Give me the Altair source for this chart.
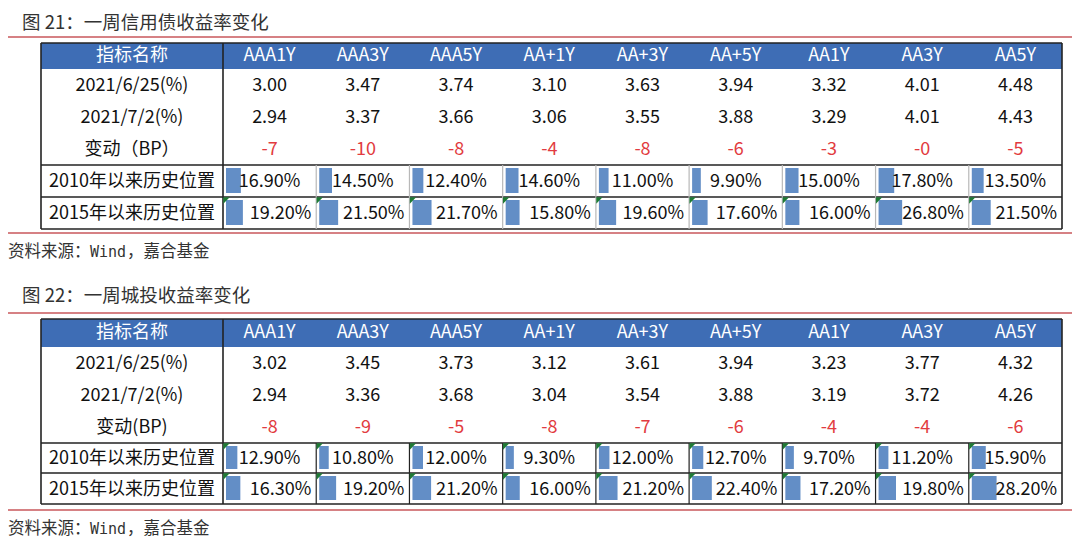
import altair as alt
import pandas as pd

# ---------------- data ----------------
columns = ["AAA1Y", "AAA3Y", "AAA5Y", "AA+1Y", "AA+3Y", "AA+5Y", "AA1Y", "AA3Y", "AA5Y"]
header_first = "指标名称"
row_labels_1 = ["2021/6/25(%)", "2021/7/2(%)", "变动（BP）", "2010年以来历史位置", "2015年以来历史位置"]
row_labels_2 = ["2021/6/25(%)", "2021/7/2(%)", "变动(BP)", "2010年以来历史位置", "2015年以来历史位置"]

# 图21 一周信用债收益率变化
t1_yield_0625 = [3.00, 3.47, 3.74, 3.10, 3.63, 3.94, 3.32, 4.01, 4.48]
t1_yield_0702 = [2.94, 3.37, 3.66, 3.06, 3.55, 3.88, 3.29, 4.01, 4.43]
t1_change_bp = [-7, -10, -8, -4, -8, -6, -3, -0.0, -5]
t1_pos_2010 = [16.90, 14.50, 12.40, 14.60, 11.00, 9.90, 15.00, 17.80, 13.50]
t1_pos_2015 = [19.20, 21.50, 21.70, 15.80, 19.60, 17.60, 16.00, 26.80, 21.50]

# 图22 一周城投收益率变化
t2_yield_0625 = [3.02, 3.45, 3.73, 3.12, 3.61, 3.94, 3.23, 3.77, 4.32]
t2_yield_0702 = [2.94, 3.36, 3.68, 3.04, 3.54, 3.88, 3.19, 3.72, 4.26]
t2_change_bp = [-8, -9, -5, -8, -7, -6, -4, -4, -6]
t2_pos_2010 = [12.90, 10.80, 12.00, 9.30, 12.00, 12.70, 9.70, 11.20, 15.90]
t2_pos_2015 = [16.30, 19.20, 21.20, 16.00, 21.20, 22.40, 17.20, 19.80, 28.20]

titles = ["图 21：一周信用债收益率变化", "图 22：一周城投收益率变化"]
source_parts = ["资料来源：", "Wind", "，嘉合基金"]

# ---------------- layout (pixel grid of the picture) ----------------
FONT = "Noto Sans CJK SC"
MONO = "DejaVu Sans Mono"
BLUE = "#3E6DB5"
RED_LINE = "#C9575B"
RED_TXT = "#E23B40"
DARK = "#222222"
BAR = "#638EC6"
TRI = "#1F7A35"

X_LEFT, X_FIRST, X_RIGHT = 41, 223, 1062
COL_W = (X_RIGHT - X_FIRST) / len(columns)
BAR_PX_PER_PCT = 0.88
SRC_X = [8, 90, 127]

layouts = [
    dict(title_y=22.5, red_top=37, red_bot=233, source_y=252,
         rows=[43, 69, 101, 133, 165, 197, 229], inner="#B8B8B8", tri_rows=[4],
         labels=row_labels_1, y25=t1_yield_0625, y02=t1_yield_0702, chg=t1_change_bp,
         p10=t1_pos_2010, p15=t1_pos_2015),
    dict(title_y=296, red_top=313, red_bot=510, source_y=529,
         rows=[319, 347, 379, 411, 443, 473, 504], inner=DARK, tri_rows=[3, 4],
         labels=row_labels_2, y25=t2_yield_0625, y02=t2_yield_0702, chg=t2_change_bp,
         p10=t2_pos_2010, p15=t2_pos_2015),
]

header_bg, bars, lines, tris = [], [], [], []
txt_center, txt_right, txt_title, txt_source, txt_mono = [], [], [], [], []


def cl(j):
    return X_FIRST + j * COL_W


for ti, L in enumerate(layouts):
    r = L["rows"]
    txt_title.append(dict(x=22, y=L["title_y"], text=titles[ti]))
    txt_source.append(dict(x=SRC_X[0], y=L["source_y"], text=source_parts[0]))
    txt_mono.append(dict(x=SRC_X[1], y=L["source_y"], text=source_parts[1]))
    txt_source.append(dict(x=SRC_X[2], y=L["source_y"], text=source_parts[2]))
    # red separator lines
    lines.append(dict(x=8, x2=1072, y=L["red_top"], y2=L["red_top"], color=RED_LINE, w=1.6))
    lines.append(dict(x=8, x2=1072, y=L["red_bot"], y2=L["red_bot"], color=RED_LINE, w=1.6))
    # header
    header_bg.append(dict(x=X_LEFT, x2=X_RIGHT, y=r[0], y2=r[1]))
    hy = (r[0] + r[1]) / 2
    txt_center.append(dict(x=(X_LEFT + X_FIRST) / 2, y=hy, text=header_first, color="white"))
    for j, c in enumerate(columns):
        txt_center.append(dict(x=cl(j) + COL_W / 2, y=hy, text=c, color="white"))
    # first column labels
    for i, lab in enumerate(L["labels"]):
        yc = (r[i + 1] + r[i + 2]) / 2 + 1
        txt_center.append(dict(x=(X_LEFT + X_FIRST) / 2, y=yc, text=lab, color="#111111"))
    # numeric rows
    for j in range(len(columns)):
        xc = cl(j) + COL_W / 2
        txt_center.append(dict(x=xc, y=(r[1] + r[2]) / 2 + 1, text=f"{L['y25'][j]:.2f}", color="#111111"))
        txt_center.append(dict(x=xc, y=(r[2] + r[3]) / 2 + 1, text=f"{L['y02'][j]:.2f}", color="#111111"))
        txt_center.append(dict(x=xc, y=(r[3] + r[4]) / 2 + 1, text=f"{L['chg'][j]:.0f}", color=RED_TXT))
        # data bar rows
        for k, vals in ((3, L["p10"]), (4, L["p15"])):
            top, bot = r[k + 1], r[k + 2]
            v = vals[j]
            bars.append(dict(x=cl(j) + 3, x2=cl(j) + 3 + v * BAR_PX_PER_PCT, y=top + 3, y2=bot - 4))
            if k == 3:
                txt_center.append(dict(x=xc, y=(top + bot) / 2 + 1, text=f"{v:.2f}%", color="#111111"))
            else:
                txt_right.append(dict(x=cl(j) + COL_W - 5, y=(top + bot) / 2 + 1, text=f"{v:.2f}%", color="#111111"))
            if k in L["tri_rows"]:
                tris.append(dict(x=cl(j) + 3.5, y=top + 3.5))
    # grid lines
    for yy in (r[0], r[4], r[5], r[6]):
        lines.append(dict(x=X_LEFT, x2=X_RIGHT, y=yy, y2=yy, color=DARK, w=1.6))
    for xx in (X_LEFT, X_FIRST, X_RIGHT):
        lines.append(dict(x=xx, x2=xx, y=r[0], y2=r[6], color=DARK, w=1.6))
    for j in range(1, len(columns)):
        lines.append(dict(x=cl(j), x2=cl(j), y=r[4], y2=r[6], color=L["inner"], w=1.2))

# ---------------- chart ----------------
XS = alt.Scale(domain=[8, 1072], range=[0, 1064], nice=False, zero=False)
YS = alt.Scale(domain=[8, 538], range=[0, 530], nice=False, zero=False)


def X(f="x"):
    return alt.X(f"{f}:Q", scale=XS, axis=None)


def Y(f="y"):
    return alt.Y(f"{f}:Q", scale=YS, axis=None)


hdr = alt.Chart(pd.DataFrame(header_bg)).mark_rect(color=BLUE).encode(
    x=X(), x2="x2:Q", y=Y(), y2="y2:Q")
bar_l = alt.Chart(pd.DataFrame(bars)).mark_rect(color=BAR).encode(
    x=X(), x2="x2:Q", y=Y(), y2="y2:Q")
line_l = alt.Chart(pd.DataFrame(lines)).mark_rule().encode(
    x=X(), x2="x2:Q", y=Y(), y2="y2:Q",
    color=alt.Color("color:N", scale=None),
    strokeWidth=alt.StrokeWidth("w:Q", scale=None))
tri_l = alt.Chart(pd.DataFrame(tris)).mark_point(
    shape="M -1 -1 L 1 -1 L -1 1 Z", filled=True, size=40, color=TRI, opacity=1).encode(
    x=X(), y=Y())


def text_layer(rows, align, size, font=FONT, **kw):
    df = pd.DataFrame(rows)
    enc = dict(x=X(), y=Y(), text="text:N")
    if "color" in df.columns:
        enc["color"] = alt.Color("color:N", scale=None)
    return alt.Chart(df).mark_text(align=align, baseline="middle", font=font,
                                   fontSize=size, **kw).encode(**enc)


t_center = text_layer(txt_center, "center", 18)
t_right = text_layer(txt_right, "right", 18)
t_title = text_layer(txt_title, "left", 18.5, color="#333333", fontWeight="normal")
t_source = text_layer(txt_source, "left", 16.5, color="#333333")
t_mono = text_layer(txt_mono, "left", 15, font=MONO, color="#333333")

chart = alt.layer(hdr, bar_l, line_l, tri_l, t_center, t_right, t_title, t_source, t_mono).properties(
    width=1064, height=530, padding=0,
    autosize=alt.AutoSizeParams(type="none"),
    background="white",
).configure_view(stroke=None)

chart.save("out.html", embed_options={"renderer": "svg", "actions": False})
